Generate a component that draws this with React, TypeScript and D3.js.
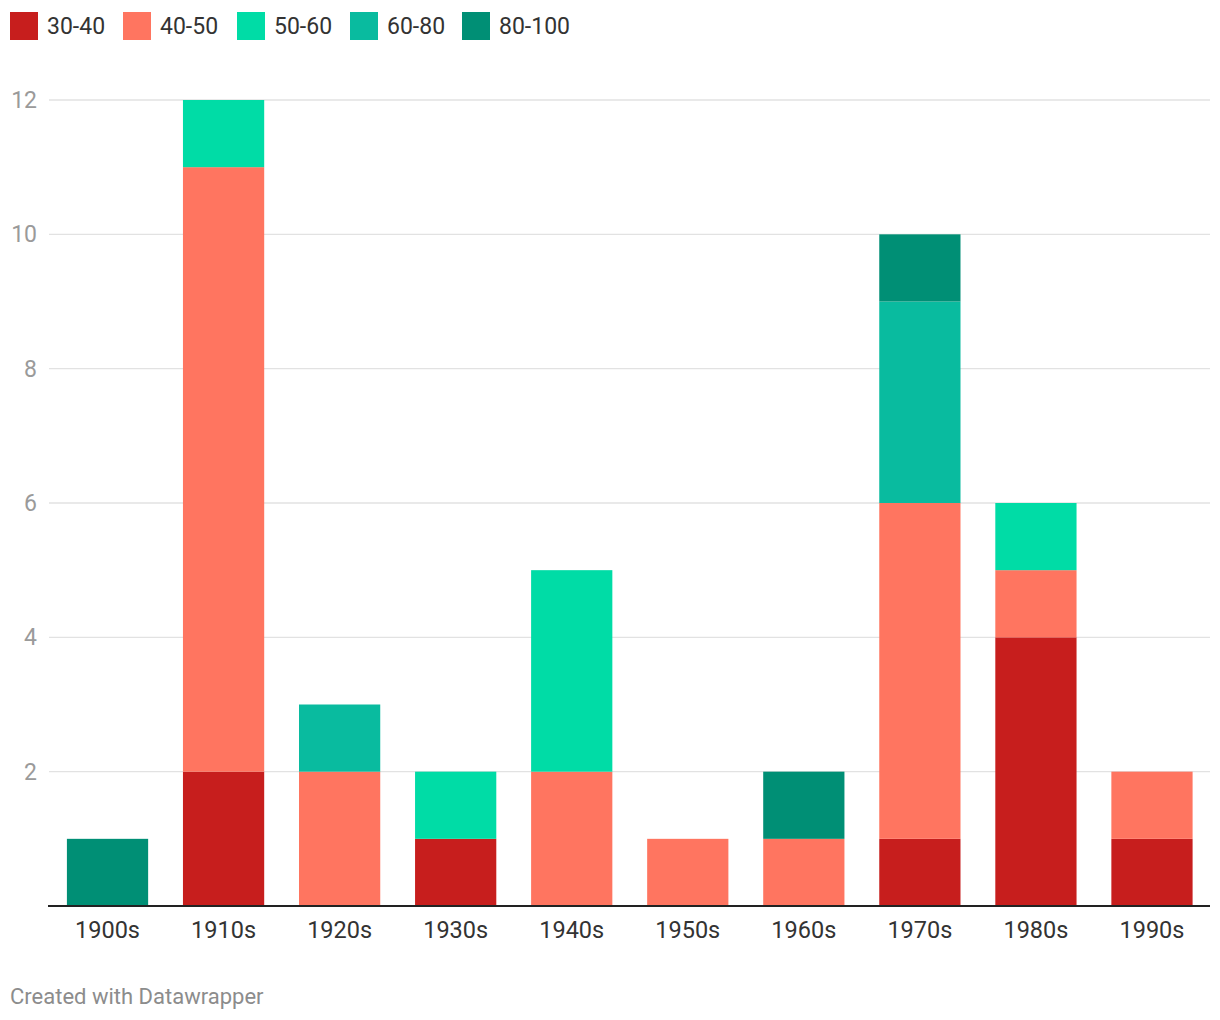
import React from "react";
import * as d3 from "d3";

const decades = ["1900s", "1910s", "1920s", "1930s", "1940s", "1950s", "1960s", "1970s", "1980s", "1990s"];
const groups = ["30-40", "40-50", "50-60", "60-80", "80-100"];
const colors = ["#c71e1d", "#ff7560", "#00dca6", "#09bb9f", "#008f75"];

const v30_40 = [0, 2, 0, 1, 0, 0, 0, 1, 4, 1];
const v40_50 = [0, 9, 2, 0, 2, 1, 1, 5, 1, 1];
const v50_60 = [0, 1, 0, 1, 3, 0, 0, 0, 1, 0];
const v60_80 = [0, 0, 1, 0, 0, 0, 0, 3, 0, 0];
const v80_100 = [1, 0, 0, 0, 0, 0, 1, 1, 0, 0];
const yTicks = [2, 4, 6, 8, 10, 12];

const W = 1220;
const H = 1020;

export default function App() {
  const rows = decades.map((d, i) => ({
    decade: d,
    "30-40": v30_40[i],
    "40-50": v40_50[i],
    "50-60": v50_60[i],
    "60-80": v60_80[i],
    "80-100": v80_100[i],
  }));
  const stack = d3.stack<any>().keys(groups)(rows);

  const x = d3.scaleBand<string>().domain(decades).range([49.5, 1210]).paddingInner(0.3).paddingOuter(0.15);
  const y = d3.scaleLinear().domain([0, 12]).range([906, 100]);
  const color = d3.scaleOrdinal<string, string>().domain(groups).range(colors);

  const legendX = [10, 123, 237, 350, 462];

  return (
    <svg
      width={W}
      height={H}
      style={{ position: "absolute", left: 0, top: 0, fontFamily: "Roboto, sans-serif" }}
    >
      <rect width={W} height={H} fill="#fff" />
      {groups.map((g, i) => (
        <g key={g} transform={`translate(${legendX[i]},12)`}>
          <rect width={28} height={28} fill={color(g)} />
          <text x={37} y={22} fontSize={23} fill="#333">
            {g}
          </text>
        </g>
      ))}
      {yTicks.map((t) => (
        <g key={t}>
          <line x1={49} x2={1210} y1={y(t)} y2={y(t)} stroke="#e2e2e2" strokeWidth={1.3} />
          <text x={37} y={y(t) + 8} textAnchor="end" fontSize={23} fill="#9a9a9a">
            {t}
          </text>
        </g>
      ))}
      {stack.map((layer) => (
        <g key={layer.key} fill={color(layer.key)}>
          {layer.map((d, i) =>
            d[1] - d[0] > 0 ? (
              <rect
                key={i}
                x={x(decades[i])}
                y={y(d[1])}
                width={x.bandwidth()}
                height={y(d[0]) - y(d[1])}
              />
            ) : null
          )}
        </g>
      ))}
      <line x1={48} x2={1210} y1={906} y2={906} stroke="#222" strokeWidth={2} />
      {decades.map((d) => (
        <text key={d} x={x(d)! + x.bandwidth() / 2} y={938} textAnchor="middle" fontSize={23.5} fill="#333">
          {d}
        </text>
      ))}
      <text x={10} y={1004} fontSize={22} fill="#8c8c8c">
        Created with Datawrapper
      </text>
    </svg>
  );
}
